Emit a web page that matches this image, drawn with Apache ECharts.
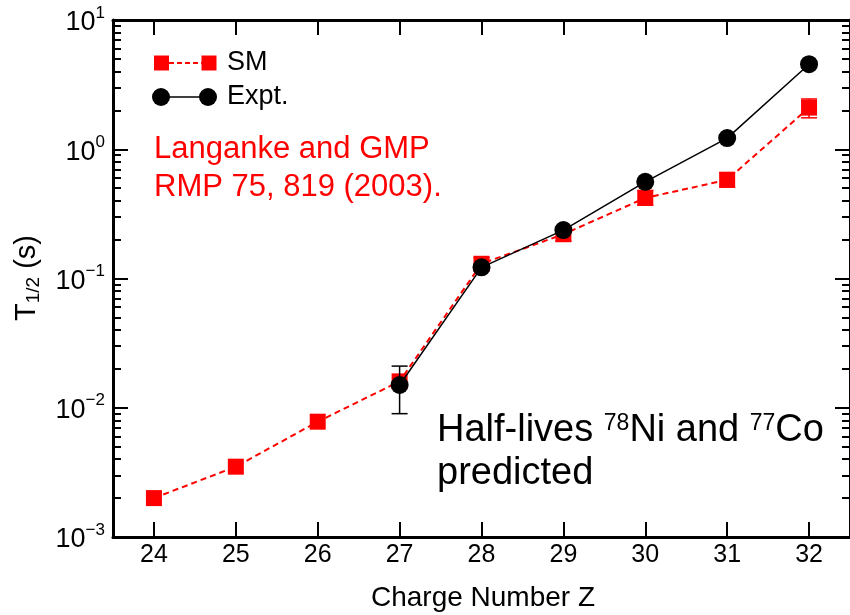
<!DOCTYPE html>
<html>
<head>
<meta charset="utf-8">
<script src="https://cdn.jsdelivr.net/npm/echarts@6/dist/echarts.min.js"></script>
<style>html,body{margin:0;padding:0;background:#fff;}#c{width:850px;height:615px;}</style>
</head>
<body>
<div id="c"></div>
<script>
// ---- data ----
const zValues = [24, 25, 26, 27, 28, 29, 30, 31, 32];
const smValues = [0.0020, 0.0035, 0.0078, 0.016, 0.13, 0.22, 0.42, 0.58, 2.1];
const smErrZ = [28, 29, 30, 31, 32];
const smErrLow = [0.118, 0.195, 0.37, 0.51, 1.75];
const smErrHigh = [0.145, 0.25, 0.48, 0.66, 2.45];
const exptZ = [27, 28, 29, 30, 31, 32];
const exptValues = [0.015, 0.122, 0.237, 0.56, 1.22, 4.55];
const exptErrZ = [27];
const exptErrLow = [0.009];
const exptErrHigh = [0.021];
const xTickValues = [24, 25, 26, 27, 28, 29, 30, 31, 32];
const yDecades = [-3, -2, -1, 0, 1];

const L = Math.log10;
const minorTicks = [];
for (let n = -3; n < 1; n++) for (let k = 2; k <= 9; k++) minorTicks.push(L(k) + n);

const FONT = '"Liberation Sans", Arial, sans-serif';
const chart = echarts.init(document.getElementById('c'), null, {renderer: 'canvas'});

function errRender(color) {
  return function (params, api) {
    const x = api.value(0);
    const p1 = api.coord([x, api.value(1)]);
    const p2 = api.coord([x, api.value(2)]);
    const hw = 8;
    const st = {stroke: color, lineWidth: 1.5};
    return {type: 'group', children: [
      {type: 'line', shape: {x1: p1[0], y1: p1[1], x2: p2[0], y2: p2[1]}, style: st},
      {type: 'line', shape: {x1: p1[0] - hw, y1: p1[1], x2: p1[0] + hw, y2: p1[1]}, style: st},
      {type: 'line', shape: {x1: p2[0] - hw, y1: p2[1], x2: p2[0] + hw, y2: p2[1]}, style: st}
    ]};
  };
}

const axisLineStyle = {color: '#000', width: 3};
const yLabelRich = {
  b: {fontSize: 27, fontFamily: FONT, color: '#000', padding: [6, 0, 0, 0]},
  s: {fontSize: 17, fontFamily: FONT, color: '#000', padding: [0, 0, 14, 0]}
};

const option = {
  animation: false,
  backgroundColor: '#fff',
  grid: {left: 113, top: 20, width: 740, height: 517, containLabel: false},
  xAxis: [
    {type: 'value', position: 'bottom', min: 23.5, max: 32.5,
     axisLine: {show: true, onZero: false, lineStyle: axisLineStyle},
     axisTick: {show: true, inside: true, length: 15, lineStyle: {color: '#000', width: 2}, customValues: xTickValues},
     axisLabel: {show: true, customValues: xTickValues, fontSize: 25, fontFamily: FONT, color: '#000', margin: 6},
     splitLine: {show: false}},
    {type: 'value', position: 'top', min: 23.5, max: 32.5,
     axisLine: {show: true, onZero: false, lineStyle: axisLineStyle},
     axisTick: {show: true, inside: true, length: 15, lineStyle: {color: '#000', width: 2}, customValues: xTickValues},
     axisLabel: {show: false}, splitLine: {show: false}}
  ],
  yAxis: [
    {type: 'value', position: 'left', min: -3, max: 1, interval: 1,
     axisLine: {show: true, onZero: false, lineStyle: axisLineStyle},
     axisTick: {show: true, inside: true, length: 15, lineStyle: {color: '#000', width: 2}},
     axisLabel: {show: true, margin: 8,
       formatter: v => '{b|10}{s|' + (v < 0 ? '\u2212' + (-v) : v) + '}',
       rich: yLabelRich},
     splitLine: {show: false}},
    {type: 'value', position: 'left', min: -3, max: 1,
     axisLine: {show: false, onZero: false},
     axisTick: {show: true, inside: true, length: 8, lineStyle: {color: '#000', width: 2}, customValues: minorTicks},
     axisLabel: {show: false}, splitLine: {show: false}},
    {type: 'value', position: 'right', min: -3, max: 1, interval: 1,
     axisLine: {show: true, onZero: false, lineStyle: axisLineStyle},
     axisTick: {show: true, inside: true, length: 15, lineStyle: {color: '#000', width: 2}},
     axisLabel: {show: false}, splitLine: {show: false}},
    {type: 'value', position: 'right', min: -3, max: 1,
     axisLine: {show: false, onZero: false},
     axisTick: {show: true, inside: true, length: 8, lineStyle: {color: '#000', width: 2}, customValues: minorTicks},
     axisLabel: {show: false}, splitLine: {show: false}}
  ],
  series: [
    {type: 'custom', name: 'SMerr', renderItem: errRender('#ff0000'), z: 2,
     data: smErrZ.map((z, i) => [z, L(smErrLow[i]), L(smErrHigh[i])])},
    {type: 'line', name: 'SM', z: 3,
     data: zValues.map((z, i) => [z, L(smValues[i])]),
     symbol: 'rect', symbolSize: 16,
     itemStyle: {color: '#ff0000'},
     lineStyle: {color: '#ff0000', width: 2, type: [6, 4]}},
    {type: 'line', name: 'Expt.', z: 4,
     data: exptZ.map((z, i) => [z, L(exptValues[i])]),
     symbol: 'circle', symbolSize: 18,
     itemStyle: {color: '#000'},
     lineStyle: {color: '#000', width: 1.5}},
    {type: 'custom', name: 'Expterr', renderItem: errRender('#000'), z: 5,
     data: exptErrZ.map((z, i) => [z, L(exptErrLow[i]), L(exptErrHigh[i])])}
  ],
  graphic: [
    // legend
    {type: 'line', shape: {x1: 161, y1: 63, x2: 209, y2: 63}, style: {stroke: '#ff0000', lineWidth: 2, lineDash: [5, 3]}},
    {type: 'rect', shape: {x: 154, y: 55.5, width: 15, height: 15}, style: {fill: '#ff0000'}},
    {type: 'rect', shape: {x: 201.5, y: 55.5, width: 15, height: 15}, style: {fill: '#ff0000'}},
    {type: 'text', x: 227, y: 63, style: {text: 'SM', fontSize: 27, fontFamily: FONT, fill: '#000', verticalAlign: 'middle'}},
    {type: 'line', shape: {x1: 161, y1: 97, x2: 208, y2: 97}, style: {stroke: '#000', lineWidth: 1.5}},
    {type: 'circle', shape: {cx: 161, cy: 97, r: 9}, style: {fill: '#000'}},
    {type: 'circle', shape: {cx: 208, cy: 97, r: 9}, style: {fill: '#000'}},
    {type: 'text', x: 227, y: 97, style: {text: 'Expt.', fontSize: 27, fontFamily: FONT, fill: '#000', verticalAlign: 'middle'}},
    // red annotation
    {type: 'text', x: 154, y: 149, style: {text: 'Langanke and GMP', fontSize: 31, fontFamily: FONT, fill: '#ff0000', verticalAlign: 'middle'}},
    {type: 'text', x: 154, y: 187, style: {text: 'RMP 75, 819 (2003).', fontSize: 31, fontFamily: FONT, fill: '#ff0000', verticalAlign: 'middle'}},
    // black annotation
    {type: 'text', x: 437, y: 431, style: {
      text: '{m|Half-lives }{s|78}{m|Ni and }{s|77}{m|Co}', verticalAlign: 'middle',
      rich: {m: {fontSize: 38, fontFamily: FONT, fill: '#000', color: '#000'},
             s: {fontSize: 23, fontFamily: FONT, fill: '#000', color: '#000', padding: [0, 0, 14, 0]}}}},
    {type: 'text', x: 437, y: 474, style: {text: 'predicted', fontSize: 38, fontFamily: FONT, fill: '#000', verticalAlign: 'middle'}},
    // axis titles
    {type: 'text', x: 483, y: 598, style: {text: 'Charge Number Z', fontSize: 28, fontFamily: FONT, fill: '#000', align: 'center', verticalAlign: 'middle'}},
    {type: 'text', x: 27, y: 278, rotation: Math.PI / 2, style: {
      text: '{t|T}{u|1/2}{t| (s)}', align: 'center', verticalAlign: 'middle',
      rich: {t: {fontSize: 29, fontFamily: FONT, fill: '#000', color: '#000'},
             u: {fontSize: 19, fontFamily: FONT, fill: '#000', color: '#000', padding: [14, 0, 0, 0]}}}}
  ]
};
chart.setOption(option);
</script>
</body>
</html>
